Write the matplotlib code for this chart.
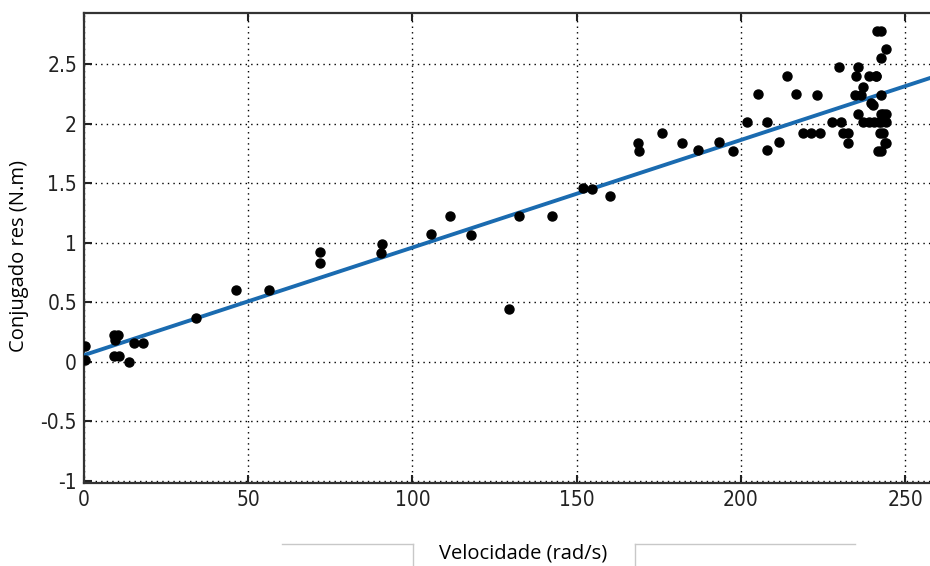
import numpy as np
import matplotlib.pyplot as plt
from matplotlib import font_manager

# measured points (velocidade rad/s, conjugado N.m)
vel = [0.3, 0.3, 9.2, 10.3, 9.5, 15.3, 18.0, 9.2, 10.8, 13.7,
       34.1, 46.2, 56.4, 71.8, 72.0, 90.6, 90.3,
       105.8, 111.4, 117.8, 132.4, 142.5, 129.3, 151.8, 154.7, 160.1,
       168.7, 168.9, 175.9, 182.1, 187.0, 193.4, 197.7,
       201.9, 205.2, 208.0, 208.0, 211.5, 214.2, 216.9, 219.0, 221.3,
       223.2, 224.0, 227.8, 229.8, 230.4, 231.1, 232.6, 232.6,
       234.7, 235.2, 235.7, 235.7, 236.5, 237.1, 237.1, 239.0, 239.6,
       240.3, 241.3, 241.6, 242.6, 242.8, 244.2,
       239.0, 240.5, 242.1, 243.3, 244.2, 242.6, 242.6, 242.5, 243.3,
       241.8, 242.8, 244.2, 243.8, 244.2, 242.6, 241.1]
torque = [0.13, 0.01, 0.22, 0.22, 0.18, 0.16, 0.16, 0.05, 0.05, 0.0,
          0.37, 0.60, 0.60, 0.92, 0.83, 0.99, 0.91,
          1.07, 1.22, 1.065, 1.22, 1.22, 0.44, 1.46, 1.45, 1.39,
          1.84, 1.77, 1.92, 1.84, 1.78, 1.85, 1.77,
          2.01, 2.25, 2.01, 1.78, 1.85, 2.40, 2.25, 1.92, 1.92,
          2.24, 1.92, 2.01, 2.48, 2.01, 1.92, 1.92, 1.84,
          2.24, 2.40, 2.48, 2.08, 2.24, 2.31, 2.01, 2.40, 2.17,
          2.16, 2.40, 2.78, 2.55, 2.78, 2.63,
          2.01, 2.01, 2.01, 2.08, 2.01, 2.24, 2.08, 1.92, 1.92,
          1.77, 1.77, 1.84, 1.84, 2.08, 2.01, 2.40]

# fitted line: y = b0 + b1*x
fit_b0 = 0.055
fit_b1 = 0.00904

xticks = [0, 50, 100, 150, 200, 250]
yticks = [-1, -0.5, 0, 0.5, 1, 1.5, 2, 2.5]
ytick_labels = ["-1", "-0.5", "0", "0.5", "1", "1.5", "2", "2.5"]

# pick a narrow font for the ticks if one is installed
narrow_file = None
for f in font_manager.fontManager.ttflist:
    if ("Narrow" in f.name or f.stretch == "condensed" or "Condensed" in f.fname) \
            and f.weight in (400, "normal") and f.style == "normal":
        narrow_file = f.fname
        break
if narrow_file:
    tick_font = font_manager.FontProperties(fname=narrow_file, size=15)
else:
    tick_font = font_manager.FontProperties(family="DejaVu Sans", size=12)
label_font = ["Open Sans", "DejaVu Sans"]

fig = plt.figure(figsize=(9.3, 5.66), dpi=100)
ax = fig.add_axes([0.0903, 0.1466, 0.9097, 0.8304])

xmin, xmax = 0, 257.6
ax.set_xlim(xmin, xmax)
ax.set_ylim(-1.02, 2.93)

xs = np.array([xmin, xmax])
ax.plot(xs, fit_b0 + fit_b1 * xs, color="#1a6bb0", lw=2.8, zorder=3)
ax.plot(vel, torque, "o", color="black", markersize=6.5, zorder=4)

ax.set_xticks(xticks)
ax.set_yticks(yticks)
ax.set_yticklabels(ytick_labels)
ax.grid(True, color="black", linestyle=(0, (1, 3)), linewidth=1.0)
ax.tick_params(direction="in", length=6, width=1.5, top=True, right=False,
               pad=5, colors="#222222")
for lab in ax.get_xticklabels() + ax.get_yticklabels():
    lab.set_fontproperties(tick_font)

for s in ["left", "bottom", "top"]:
    ax.spines[s].set_linewidth(1.6)
    ax.spines[s].set_color("#333333")
ax.spines["right"].set_visible(False)

fig.text(0.562, 0.004, "Velocidade (rad/s)", family=label_font, fontsize=14.5,
         ha="center", va="bottom")
fig.text(0.02, 0.548, "Conjugado res (N.m)", family=label_font, fontsize=14.5,
         ha="center", va="center", rotation=90)

# light frame lines around the x label (from the source screenshot)
grey = "#c8c8c8"
fig.add_artist(plt.Line2D([282 / 930, 413 / 930], [1 - 544 / 566] * 2,
                          transform=fig.transFigure, color=grey, lw=1))
fig.add_artist(plt.Line2D([413 / 930] * 2, [0, 1 - 544 / 566],
                          transform=fig.transFigure, color=grey, lw=1))
fig.add_artist(plt.Line2D([635 / 930, 855 / 930], [1 - 544 / 566] * 2,
                          transform=fig.transFigure, color=grey, lw=1))
fig.add_artist(plt.Line2D([635 / 930] * 2, [0, 1 - 544 / 566],
                          transform=fig.transFigure, color=grey, lw=1))

fig.savefig("out.png", dpi=100)
